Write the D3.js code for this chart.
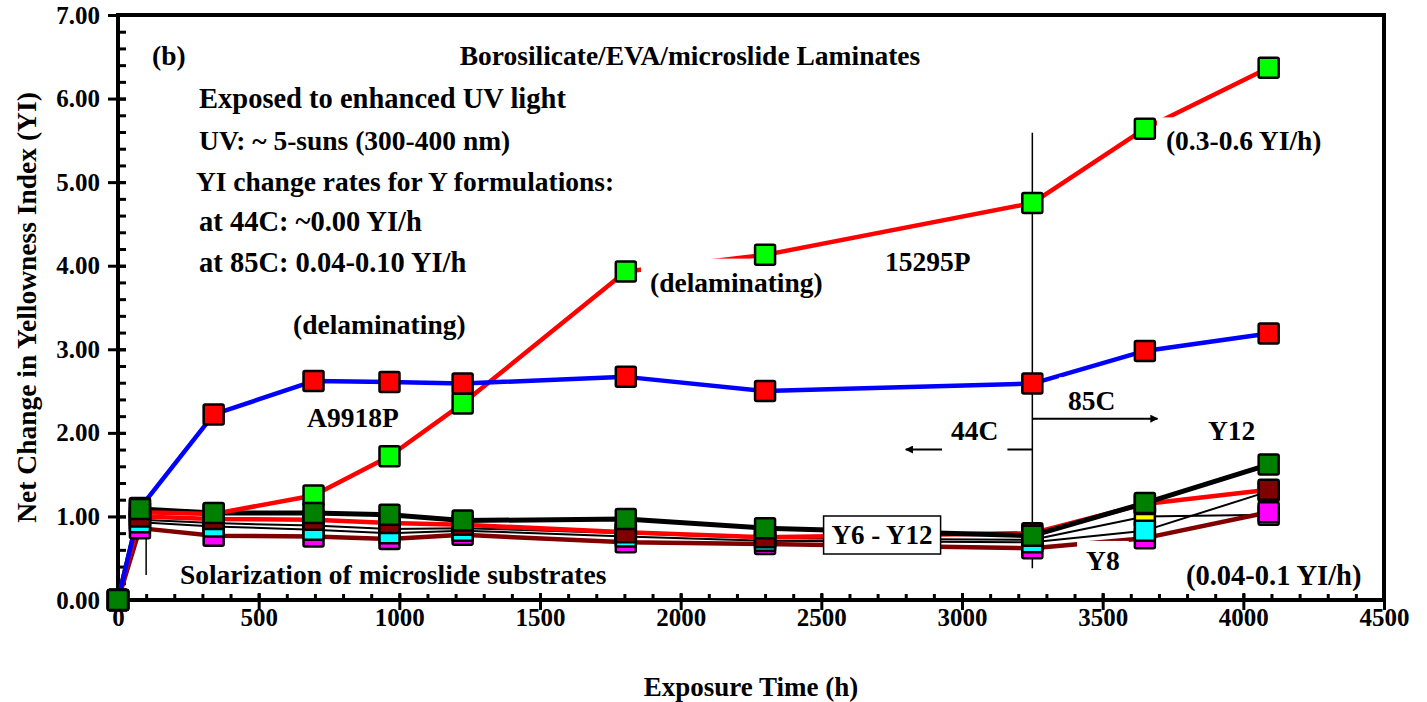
<!DOCTYPE html>
<html>
<head>
<meta charset="utf-8">
<script src="https://cdn.jsdelivr.net/npm/d3@7"></script>
<style>
  body { margin: 0; background: #fff; }
  svg text { font-family: "Liberation Serif", "Times New Roman", serif; font-weight: bold; fill: #000; }
</style>
</head>
<body>
<script>
// exposure times (h) shared by every series
const times = [0, 78, 340, 695, 965, 1225, 1805, 2300, 3250, 3650, 4090];

// net change in YI
const yi15295P = [0, 1.05, 1.03, 1.25, 1.72, 2.35, 3.93, 4.13, 4.75, 5.64, 6.37];
const yiA9918P = [0, 1.10, 2.22, 2.62, 2.61, 2.59, 2.67, 2.50, 2.59, 2.98, 3.19];
const yiY12 = [0, 1.09, 1.04, 1.04, 1.02, 0.95, 0.97, 0.86, 0.77, 1.16, 1.62];
const yiYred = [0, 1.00, 0.97, 0.96, 0.92, 0.90, 0.81, 0.75, 0.80, 1.15, 1.32];
const yiYyellow = [0, 0.96, 0.92, 0.89, 0.85, 0.86, 0.80, 0.74, 0.72, 1.00, 1.02];
const yiYcyan = [0, 0.93, 0.88, 0.84, 0.80, 0.83, 0.76, 0.71, 0.69, 0.83, 1.30];
const yiY8 = [0, 0.86, 0.77, 0.76, 0.73, 0.78, 0.69, 0.67, 0.62, 0.74, 1.05];

const xTickValues = [0, 500, 1000, 1500, 2000, 2500, 3000, 3500, 4000, 4500];
const yTickValues = [0, 1, 2, 3, 4, 5, 6, 7];

const margin = {top: 15, left: 118, right: 43, bottom: 102};
const W = 1427, H = 702;
const width = W - margin.left - margin.right;
const height = H - margin.top - margin.bottom;

const svg = d3.select('body').append('svg')
  .attr('width', W)
  .attr('height', H);

const g = svg.append('g')
  .attr('transform', `translate(${margin.left}, ${margin.top})`);

const x = d3.scaleLinear().domain([0, 4500]).range([0, width]);
const y = d3.scaleLinear().domain([0, 7]).range([height, 0]);

// arrowhead
svg.append('defs').append('marker')
  .attr('id', 'arrow')
  .attr('viewBox', '0 0 10 10')
  .attr('refX', 9).attr('refY', 5)
  .attr('markerWidth', 8).attr('markerHeight', 8)
  .attr('markerUnits', 'userSpaceOnUse')
  .attr('orient', 'auto')
  .append('path').attr('d', 'M0,0 L10,5 L0,10 z').attr('fill', '#000');

/////////////////////////
// axes

const xMinor = d3.range(0, 4501, 100);
const yMinor = d3.range(0, 7.01, 0.2);

g.append('g')
  .attr('transform', `translate(0, ${height})`)
  .call(d3.axisBottom(x).tickValues(xMinor).tickSize(-6).tickFormat(''))
  .call((a) => a.select('.domain').remove())
  .selectAll('line').attr('stroke-width', 3);

const xAxis = g.append('g')
  .attr('transform', `translate(0, ${height})`)
  .call(d3.axisBottom(x).tickValues(xTickValues).tickSize(10).tickFormat(d3.format('d')));
xAxis.select('.domain').remove();
xAxis.selectAll('line').attr('y1', -7).attr('stroke-width', 3);
xAxis.selectAll('text').attr('y', 8).style('font-size', '25px');

g.append('g')
  .call(d3.axisLeft(y).tickValues(yMinor).tickSize(-8).tickFormat(''))
  .call((a) => a.select('.domain').remove())
  .selectAll('line').attr('stroke-width', 3);

const yAxis = g.append('g')
  .call(d3.axisLeft(y).tickValues(yTickValues).tickSize(10).tickPadding(8).tickFormat(d3.format('.2f')));
yAxis.select('.domain').remove();
yAxis.selectAll('line').attr('x1', 8).attr('stroke-width', 3);
yAxis.selectAll('text').style('font-size', '25px');

g.append('rect')
  .attr('width', width).attr('height', height)
  .attr('fill', 'none').attr('stroke', '#000').attr('stroke-width', 4);

svg.append('text')
  .attr('x', margin.left + x(2250)).attr('y', 696)
  .attr('text-anchor', 'middle')
  .style('font-size', '27px')
  .text('Exposure Time (h)');

svg.append('text')
  .attr('transform', `translate(36, ${margin.top + y(3.5)}) rotate(-90)`)
  .attr('text-anchor', 'middle')
  .style('font-size', '27.5px')
  .text('Net Change in Yellowness Index (YI)');

/////////////////////////
// lines

const series = [
  {id: 'Ycyan', values: yiYcyan, stroke: '#000', sw: 2, fill: '#00ffff'},
  {id: 'Yyellow', values: yiYyellow, stroke: '#000', sw: 2, fill: '#ffff00'},
  {id: 'Y8', values: yiY8, stroke: '#800000', sw: 4.5, fill: '#ff00ff'},
  {id: 'Yred', values: yiYred, stroke: '#ff0000', sw: 4.5, fill: '#800000'},
  {id: 'Y12', values: yiY12, stroke: '#000', sw: 5, fill: '#008000'},
  {id: '15295P', values: yi15295P, stroke: '#ff0000', sw: 4.5, fill: '#00ff00'},
  {id: 'A9918P', values: yiA9918P, stroke: '#0000ff', sw: 4.5, fill: '#ff0000'}
];

const line = d3.line()
  .x((d) => x(d.t))
  .y((d) => y(d.v));

const pts = (s) => times.map((t, i) => ({t: t, v: s.values[i]}));

g.selectAll('.series')
  .data(series)
  .enter().append('path')
  .attr('class', 'series')
  .attr('d', (s) => line(pts(s)))
  .attr('fill', 'none')
  .attr('stroke', (s) => s.stroke)
  .attr('stroke-width', (s) => s.sw)
  .attr('stroke-linejoin', 'round');

/////////////////////////
// annotation lines

g.append('line')
  .attr('x1', x(3250)).attr('x2', x(3250))
  .attr('y1', y(0.38)).attr('y2', y(5.59))
  .attr('stroke', '#000').attr('stroke-width', 1.5);

g.append('line')
  .attr('x1', x(3250)).attr('x2', x(2800))
  .attr('y1', y(1.80)).attr('y2', y(1.80))
  .attr('stroke', '#000').attr('stroke-width', 2)
  .attr('marker-end', 'url(#arrow)');

g.append('line')
  .attr('x1', x(3250)).attr('x2', x(3695))
  .attr('y1', y(2.17)).attr('y2', y(2.17))
  .attr('stroke', '#000').attr('stroke-width', 2)
  .attr('marker-end', 'url(#arrow)');

g.append('line')
  .attr('x1', x(100)).attr('x2', x(100))
  .attr('y1', y(0.30)).attr('y2', y(0.86))
  .attr('stroke', '#000').attr('stroke-width', 1.5)
  .attr('marker-end', 'url(#arrow)');

/////////////////////////
// labels (padT / padB = white backing box above / below the text)

const labels = [
  {text: '(b)', t: 121, v: 6.40},
  {text: 'Borosilicate/EVA/microslide Laminates', t: 2033, v: 6.40, anchor: 'middle'},
  {text: 'Exposed to enhanced UV light', t: 288, v: 5.89, size: 28.5},
  {text: 'UV: ~ 5-suns (300-400 nm)', t: 288, v: 5.38},
  {text: 'YI change rates for Y formulations:', t: 277, v: 4.89},
  {text: 'at 44C: ~0.00 YI/h', t: 288, v: 4.42, size: 28.5},
  {text: 'at 85C: 0.04-0.10 YI/h', t: 288, v: 3.92, size: 28.5},
  {text: '(delaminating)', t: 622, v: 3.18},
  {text: 'A9918P', t: 672, v: 2.07},
  {text: '(delaminating)', t: 1891, v: 3.69, padT: 8, padB: 4},
  {text: '15295P', t: 2726, v: 3.94},
  {text: '(0.3-0.6 YI/h)', t: 3725, v: 5.38, padT: 8, padB: 4},
  {text: '85C', t: 3377, v: 2.27, padT: 8, padB: -1},
  {text: '44C', t: 2961, v: 1.91, padT: 4, padB: 6},
  {text: 'Y12', t: 3874, v: 1.91},
  {text: 'Y8', t: 3441, v: 0.36, padT: 4, padB: 2},
  {text: '(0.04-0.1 YI/h)', t: 3796, v: 0.18, size: 28.5},
  {text: 'Solarization of microslide substrates', t: 220, v: 0.19}
];

labels.forEach((d) => {
  const grp = g.append('g');
  const txt = grp.append('text')
    .attr('x', x(d.t)).attr('y', y(d.v))
    .attr('text-anchor', d.anchor || 'start')
    .style('font-size', `${d.size || 27.5}px`)
    .text(d.text);
  if (d.padT !== undefined) {
    const b = txt.node().getBBox();
    grp.insert('rect', 'text')
      .attr('x', b.x - 9).attr('y', b.y - d.padT)
      .attr('width', b.width + 18).attr('height', b.height + d.padT + d.padB)
      .attr('fill', '#fff');
  }
});

// boxed Y6 - Y12 label
const boxG = g.append('g');
const boxText = boxG.append('text')
  .attr('x', x(2716)).attr('y', y(0.67))
  .attr('text-anchor', 'middle')
  .style('font-size', '27px')
  .text('Y6 - Y12');
const bb = boxText.node().getBBox();
boxG.insert('rect', 'text')
  .attr('x', bb.x - 8).attr('y', bb.y - 4)
  .attr('width', bb.width + 16).attr('height', bb.height + 8)
  .attr('fill', '#fff').attr('stroke', '#000').attr('stroke-width', 1.5);

/////////////////////////
// markers (drawn last, Y formulations on top)

const markerOrder = ['15295P', 'A9918P', 'Yyellow', 'Y8', 'Ycyan', 'Yred', 'Y12'];
const ms = 20;

markerOrder.forEach((id) => {
  const s = series.find((d) => d.id === id);
  g.selectAll(`.m-${id}`)
    .data(pts(s))
    .enter().append('rect')
    .attr('class', `m-${id}`)
    .attr('x', (d) => x(d.t) - ms / 2)
    .attr('y', (d) => y(d.v) - ms / 2)
    .attr('width', ms).attr('height', ms)
    .attr('rx', 1.5)
    .attr('fill', s.fill)
    .attr('stroke', '#000').attr('stroke-width', 2.5);
});
</script>
</body>
</html>
